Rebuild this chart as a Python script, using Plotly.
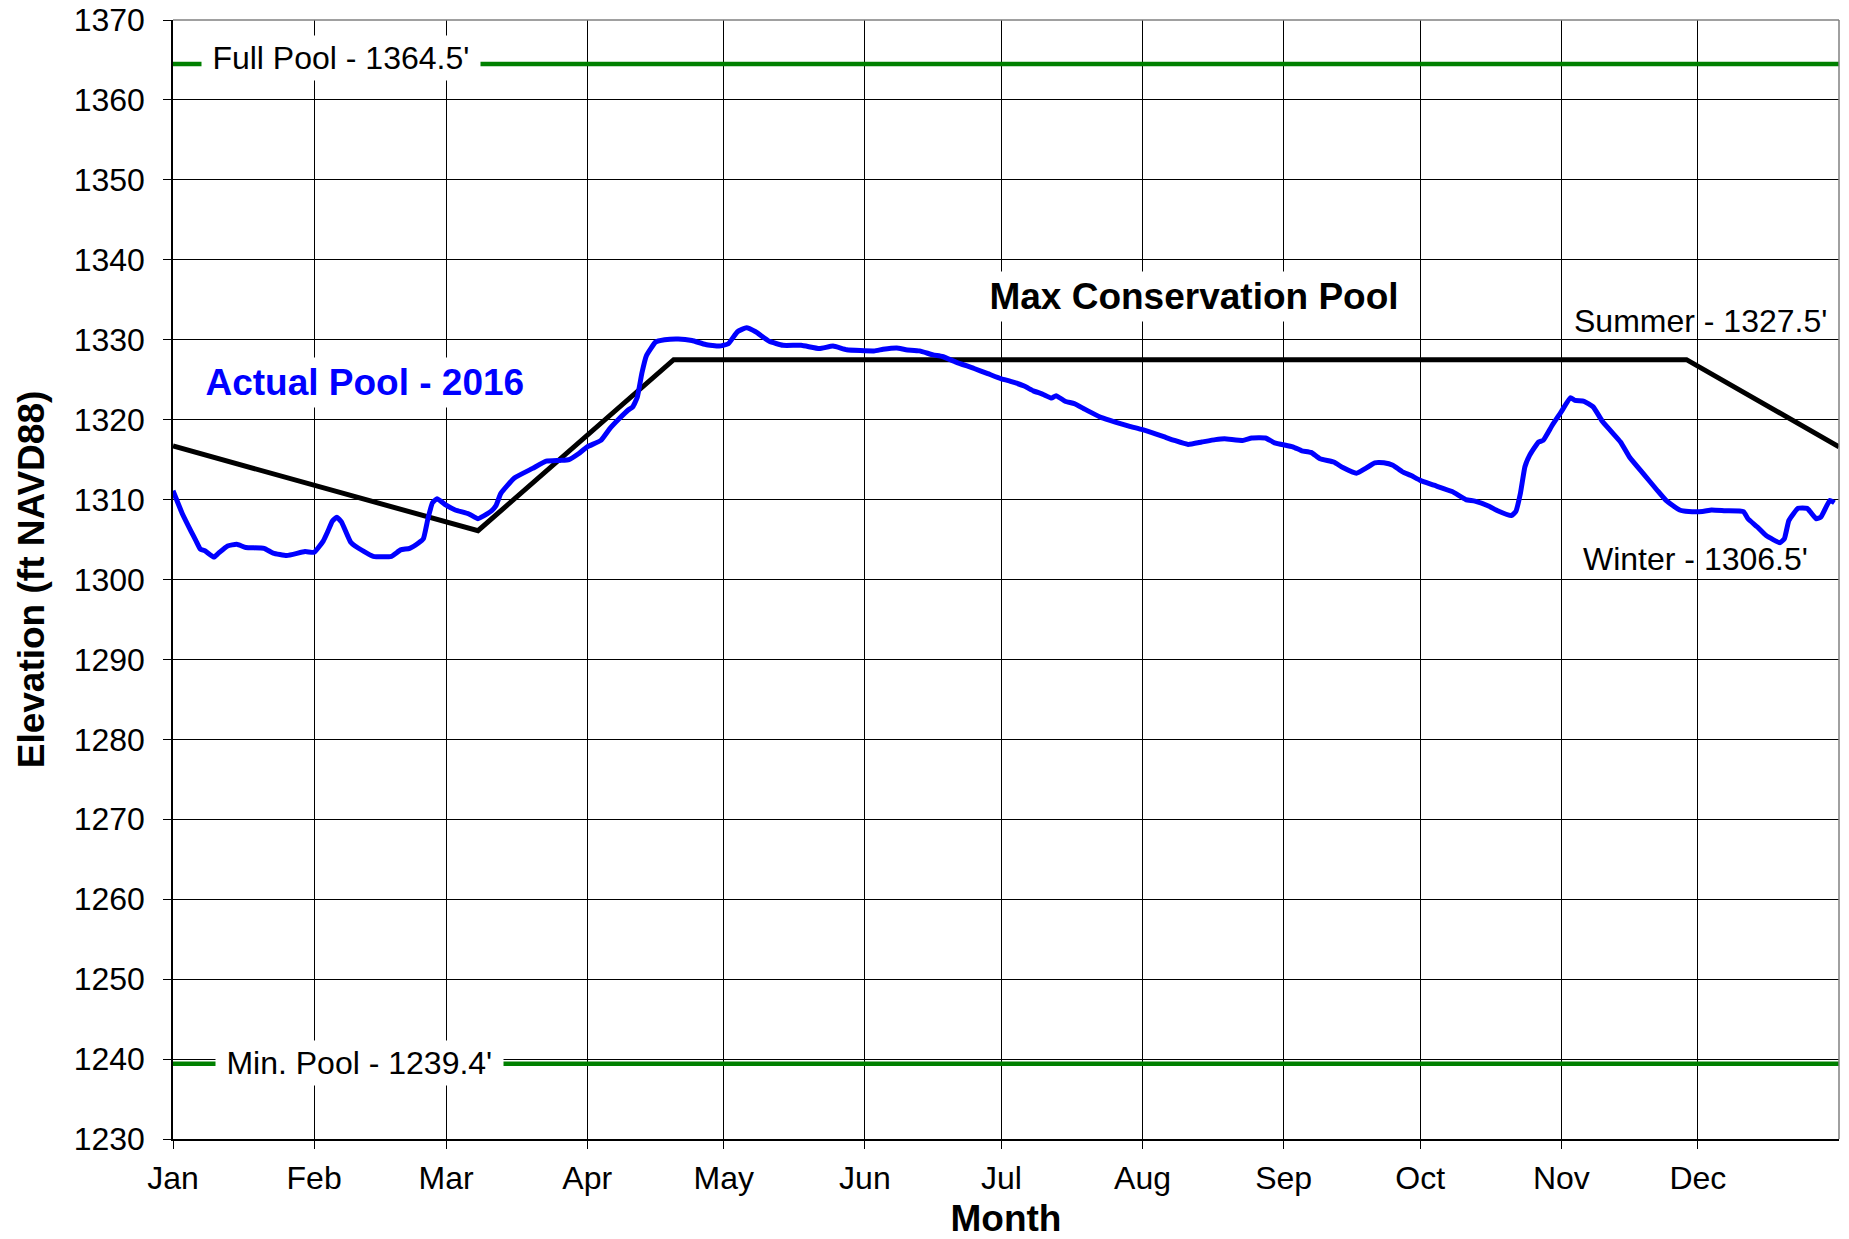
import plotly.graph_objects as go

# ---------------- data ----------------
months = ["Jan", "Feb", "Mar", "Apr", "May", "Jun", "Jul", "Aug", "Sep", "Oct", "Nov", "Dec"]
month_starts = ["2016-01-01", "2016-02-01", "2016-03-01", "2016-04-01", "2016-05-01", "2016-06-01",
                "2016-07-01", "2016-08-01", "2016-09-01", "2016-10-01", "2016-11-01", "2016-12-01"]

full_pool = 1364.5
min_pool = 1239.4
pool_span = ["2016-01-01", "2017-01-01"]

rule_dates = ["2016-01-01", "2016-03-08", "2016-04-20", "2016-11-28 12:00", "2017-01-01"]
rule_elev = [1316.7, 1306.1, 1327.5, 1327.5, 1316.6]

actual_dates = [
    "2016-01-01", "2016-01-03", "2016-01-05", "2016-01-06", "2016-01-07", "2016-01-08", "2016-01-10",
    "2016-01-11", "2016-01-13", "2016-01-15", "2016-01-17", "2016-01-21", "2016-01-23", "2016-01-26",
    "2016-01-30", "2016-02-01", "2016-02-03", "2016-02-04", "2016-02-05", "2016-02-06", "2016-02-07",
    "2016-02-09", "2016-02-10", "2016-02-14", "2016-02-18", "2016-02-20", "2016-02-22", "2016-02-24",
    "2016-02-25", "2016-02-26", "2016-02-27", "2016-02-28", "2016-03-01", "2016-03-03", "2016-03-06",
    "2016-03-08", "2016-03-10", "2016-03-11", "2016-03-12", "2016-03-13", "2016-03-16", "2016-03-20",
    "2016-03-23", "2016-03-26", "2016-03-28", "2016-03-30", "2016-04-01", "2016-04-04", "2016-04-06",
    "2016-04-08", "2016-04-10", "2016-04-11", "2016-04-12", "2016-04-13", "2016-04-14", "2016-04-16",
    "2016-04-18", "2016-04-21", "2016-04-24", "2016-04-27", "2016-04-30", "2016-05-02", "2016-05-04",
    "2016-05-06", "2016-05-08", "2016-05-11", "2016-05-14", "2016-05-18", "2016-05-22", "2016-05-25",
    "2016-05-28", "2016-06-03", "2016-06-05", "2016-06-08", "2016-06-10", "2016-06-13", "2016-06-16",
    "2016-06-18", "2016-06-21", "2016-06-25", "2016-06-28", "2016-07-01", "2016-07-03", "2016-07-06",
    "2016-07-08", "2016-07-10", "2016-07-12", "2016-07-13", "2016-07-15", "2016-07-17", "2016-07-19",
    "2016-07-20", "2016-07-23", "2016-07-26", "2016-07-29", "2016-08-01", "2016-08-04", "2016-08-06",
    "2016-08-08", "2016-08-11", "2016-08-14", "2016-08-17", "2016-08-19", "2016-08-23", "2016-08-25",
    "2016-08-28", "2016-08-30", "2016-09-03", "2016-09-05", "2016-09-07", "2016-09-09", "2016-09-12",
    "2016-09-14", "2016-09-17", "2016-09-19", "2016-09-21", "2016-09-23", "2016-09-25", "2016-09-27",
    "2016-09-29", "2016-10-01", "2016-10-04", "2016-10-08", "2016-10-11", "2016-10-13", "2016-10-16",
    "2016-10-18", "2016-10-21", "2016-10-22", "2016-10-23", "2016-10-24", "2016-10-25", "2016-10-27",
    "2016-10-28", "2016-10-30", "2016-11-01", "2016-11-03", "2016-11-04", "2016-11-06", "2016-11-08",
    "2016-11-10", "2016-11-12", "2016-11-14", "2016-11-16", "2016-11-19", "2016-11-22", "2016-11-24",
    "2016-11-27", "2016-11-29", "2016-12-02", "2016-12-04", "2016-12-07", "2016-12-11", "2016-12-12",
    "2016-12-14", "2016-12-16", "2016-12-19", "2016-12-20", "2016-12-21", "2016-12-23", "2016-12-25",
    "2016-12-27", "2016-12-28", "2016-12-30", "2016-12-31",
]
actual_elev = [
    1311.1, 1308.3, 1306.0, 1304.9, 1303.8, 1303.6, 1302.8,
    1303.3, 1304.2, 1304.4, 1304.0, 1303.9, 1303.3, 1303.0,
    1303.5, 1303.4, 1304.8, 1306.0, 1307.3, 1307.8, 1307.2,
    1304.7, 1304.2, 1302.9, 1302.9, 1303.7, 1303.9, 1304.6,
    1305.1, 1307.6, 1309.6, 1310.1, 1309.3, 1308.7, 1308.2,
    1307.6, 1308.2, 1308.6, 1309.3, 1310.75, 1312.7, 1313.9,
    1314.8, 1314.9, 1315.0, 1315.7, 1316.6, 1317.4, 1318.9,
    1320.1, 1321.2, 1321.6, 1322.8, 1325.8, 1328.0, 1329.7,
    1330.0, 1330.1, 1329.9, 1329.4, 1329.2, 1329.5, 1331.0,
    1331.5, 1331.0, 1329.8, 1329.3, 1329.3, 1328.9, 1329.2,
    1328.75, 1328.6, 1328.8, 1328.96, 1328.75, 1328.6, 1328.1,
    1327.9, 1327.2, 1326.4, 1325.75, 1325.1, 1324.8, 1324.2,
    1323.6, 1323.2, 1322.7, 1323.0, 1322.3, 1322.0, 1321.4,
    1321.1, 1320.25, 1319.7, 1319.2, 1318.75, 1318.2, 1317.8,
    1317.4, 1316.9, 1317.2, 1317.5, 1317.6, 1317.4, 1317.7,
    1317.7, 1317.1, 1316.6, 1316.1, 1315.9, 1315.1, 1314.7,
    1314.0, 1313.3, 1313.9, 1314.6, 1314.6, 1314.3, 1313.5,
    1313.0, 1312.4, 1311.8, 1311.0, 1310.0, 1309.8, 1309.2,
    1308.6, 1308.0, 1308.5, 1310.75, 1314.1, 1315.5, 1317.2,
    1317.4, 1319.3, 1321.0, 1322.75, 1322.4, 1322.3, 1321.6,
    1319.8, 1318.5, 1317.2, 1315.3, 1313.25, 1311.2, 1309.9,
    1308.7, 1308.5, 1308.5, 1308.7, 1308.6, 1308.5, 1307.6,
    1306.6, 1305.5, 1304.6, 1305.1, 1307.4, 1308.9, 1308.9,
    1307.6, 1307.8, 1309.9, 1309.6,
]

FONT = "Liberation Sans, Arial, Helvetica, sans-serif"

fig = go.Figure()

# Full / Min pool lines
fig.add_trace(go.Scatter(x=pool_span, y=[full_pool, full_pool], mode="lines",
                         line=dict(color="#008000", width=4.5), hoverinfo="skip"))
fig.add_trace(go.Scatter(x=pool_span, y=[min_pool, min_pool], mode="lines",
                         line=dict(color="#008000", width=4.5), hoverinfo="skip"))
# Max conservation pool rule curve
fig.add_trace(go.Scatter(x=rule_dates, y=rule_elev, mode="lines",
                         line=dict(color="black", width=5)))
# Actual pool
fig.add_trace(go.Scatter(x=actual_dates, y=actual_elev, mode="lines",
                         line=dict(color="#0000FF", width=5, shape="spline", smoothing=0.4)))

annos = [
    dict(text="Full Pool - 1364.5'", x=0.1011, y=1365.3, size=32, color="black", bg=True),
    dict(text="Min. Pool - 1239.4'", x=0.1121, y=1239.5, size=32, color="black", bg=True),
    dict(text="<b>Actual Pool - 2016</b>", x=0.1154, y=1324.7, size=37, color="#0000FF", bg=True),
    dict(text="<b>Max Conservation Pool</b>", x=0.6127, y=1335.4, size=37, color="black", bg=True),
    dict(text="Summer - 1327.5'", x=0.9166, y=1332.4, size=32, color="black", bg=False),
    dict(text="Winter - 1306.5'", x=0.9140, y=1302.6, size=32, color="black", bg=False),
]
for a in annos:
    kw = dict(text=a["text"], x=a["x"], y=a["y"], xref="paper", yref="y",
              xanchor="center", yanchor="middle", showarrow=False,
              font=dict(family=FONT, size=a["size"], color=a["color"]))
    if a["bg"]:
        kw.update(bgcolor="white", borderpad=4)
        kw["text"] = "\u2009" + kw["text"] + "\u2009"
    fig.add_annotation(**kw)

# top and right frame (gray)
fig.add_shape(type="line", xref="paper", yref="paper", x0=0, x1=1, y0=1, y1=1,
              line=dict(color="#808080", width=1.5))
fig.add_shape(type="line", xref="paper", yref="paper", x0=1, x1=1, y0=0, y1=1,
              line=dict(color="#808080", width=1.5))

fig.update_layout(
    width=1849, height=1239,
    margin=dict(l=173, r=10, t=20, b=100, autoexpand=False),
    paper_bgcolor="white", plot_bgcolor="white",
    showlegend=False,
    font=dict(family=FONT, size=32, color="black"),
    xaxis=dict(
        type="date", range=["2016-01-01", "2017-01-01"],
        tickvals=month_starts, ticktext=months,
        showgrid=True, gridcolor="black", gridwidth=1,
        showline=True, linecolor="black", linewidth=2,
        ticks="outside", ticklen=8, tickcolor="black", tickwidth=1,
        ticklabelstandoff=2,
        tickfont=dict(family=FONT, size=32),
        title=dict(text="<b>Month</b>", font=dict(family=FONT, size=37), standoff=18),
        zeroline=False, automargin=False,
    ),
    yaxis=dict(
        range=[1230, 1370], dtick=10, tick0=1230,
        showgrid=True, gridcolor="black", gridwidth=1,
        showline=True, linecolor="black", linewidth=1.5,
        ticks="outside", ticklen=8, tickcolor="black", tickwidth=1,
        ticklabelstandoff=12,
        tickfont=dict(family=FONT, size=32),
        title=dict(text="<b>Elevation (ft NAVD88)</b>", font=dict(family=FONT, size=37), standoff=18),
        zeroline=False, automargin=False,
    ),
)

fig.write_html("out.html", config={"displayModeBar": False},
               post_script="document.body.style.margin='0';")
